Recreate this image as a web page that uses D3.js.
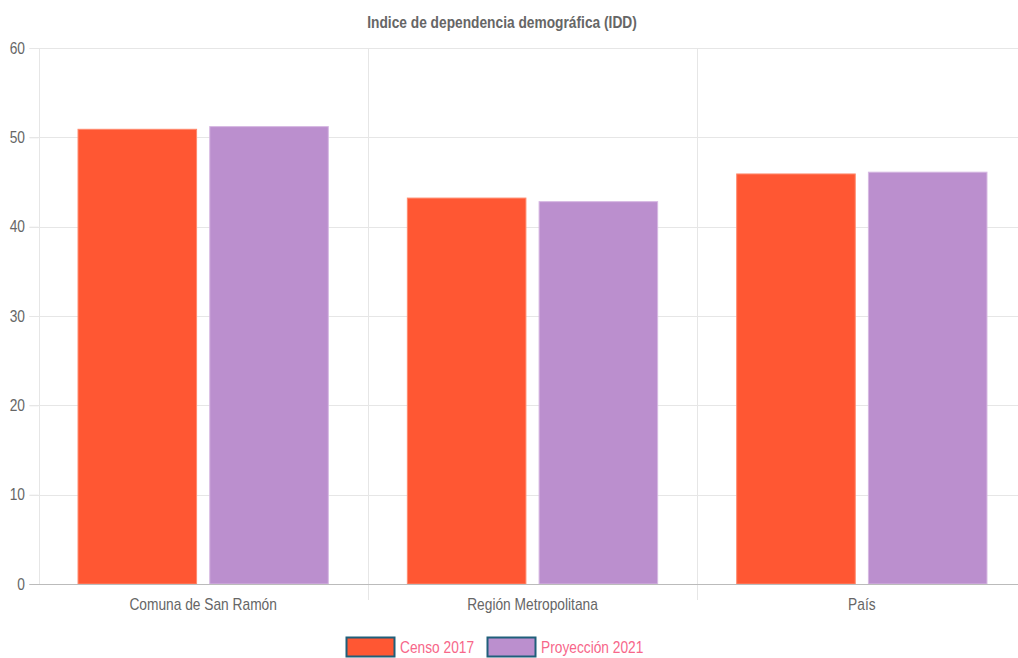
<!DOCTYPE html>
<html><head><meta charset="utf-8">
<script src="https://cdn.jsdelivr.net/npm/d3@7"></script>
<style>
html,body{margin:0;padding:0;background:#fff;overflow:hidden}
svg{display:block}
text{font-family:"Liberation Sans","Arial",sans-serif}
</style></head><body>
<script>
const categories = ["Comuna de San Ramón", "Región Metropolitana", "País"];
const seriesNames = ["Censo 2017", "Proyección 2021"];
const censo2017 = [50.9, 43.2, 45.9];
const proyeccion2021 = [51.2, 42.8, 46.1];
const yTicks = [0, 10, 20, 30, 40, 50, 60];
const colors = ["#FF5733", "#BB8FCE"];
const title = "Indice de dependencia demográfica (IDD)";

(function () {
const W = 1018, H = 658;
const SX = 0.86;
const svg = d3.select("body").append("svg").attr("width", W).attr("height", H);

const pLeft = 38.5, pRight = 1026.5, pTop = 48, pBottom = 584;
const x0 = d3.scaleBand().domain(categories).range([pLeft, pRight]).paddingInner(0).paddingOuter(0);
const bw = x0.bandwidth();
const x1 = d3.scaleBand().domain(seriesNames).range([0.1 * bw, 0.9 * bw]).paddingInner(0.1).paddingOuter(0.05);
const y = d3.scaleLinear().domain([0, 60]).range([pBottom, pTop]);

// horizontal grid
svg.append("g").selectAll("line").data(yTicks.filter(d => d > 0)).join("line")
  .attr("x1", pLeft - 9).attr("x2", W)
  .attr("y1", d => Math.round(y(d)) + 0.5).attr("y2", d => Math.round(y(d)) + 0.5)
  .attr("stroke", "#e6e6e6").attr("stroke-width", 1);

// vertical grid (category boundaries)
const vlines = [pLeft].concat(categories.map(c => x0(c) + bw)).filter(v => v < W);
svg.append("g").selectAll("line").data(vlines).join("line")
  .attr("x1", d => Math.round(d) + 0.5).attr("x2", d => Math.round(d) + 0.5)
  .attr("y1", pTop).attr("y2", d => d === pLeft ? pBottom : pBottom + 16)
  .attr("stroke", "#e6e6e6").attr("stroke-width", 1);

// bars
const data = categories.map((c, i) => ({cat: c, vals: [censo2017[i], proyeccion2021[i]]}));
const groups = svg.append("g").selectAll("g").data(data).join("g")
  .attr("transform", d => `translate(${x0(d.cat)},0)`);
groups.selectAll("rect").data(d => d.vals.map((v, j) => ({v, s: seriesNames[j], j}))).join("rect")
  .attr("x", d => x1(d.s)).attr("width", x1.bandwidth())
  .attr("y", d => y(d.v)).attr("height", d => y(0) - y(d.v))
  .attr("fill", d => colors[d.j])
  .attr("stroke", d => d.j === 0 ? "#ff8a6e" : "#d6b8e2").attr("stroke-width", 1);

// y axis
const yAxis = d3.axisLeft(y).tickValues(yTicks).tickSize(9).tickPadding(3).tickFormat(d3.format("d"));
const ga = svg.append("g").attr("transform", `translate(${pLeft},0)`).call(yAxis);
ga.select(".domain").remove();
ga.selectAll(".tick line").attr("stroke", "#e6e6e6");
ga.selectAll(".tick text").attr("fill", "#666").attr("font-size", 16)
  .attr("x", -13.5 / SX).attr("transform", `scale(${SX},1)`);
ga.selectAll(".tick").filter(d => d === 0).select("line").attr("stroke", "#bbb");

// x axis
const xAxis = d3.axisBottom(x0).tickSize(0).tickPadding(15);
const gx = svg.append("g").attr("transform", `translate(0,${pBottom})`).call(xAxis);
gx.select(".domain").remove();
gx.selectAll(".tick text").attr("fill", "#666").attr("font-size", 16).attr("transform", `scale(${SX},1)`);
svg.append("line").attr("x1", pLeft - 9).attr("x2", W).attr("y1", pBottom + 0.5).attr("y2", pBottom + 0.5)
  .attr("stroke", "#bbb").attr("stroke-width", 1.2);

// title
svg.append("g").attr("transform", "translate(502,28)")
  .append("text").attr("text-anchor", "middle").attr("transform", `scale(${SX},1)`)
  .attr("fill", "#666").attr("font-size", 16).attr("font-weight", "bold").text(title);

// legend
const legendX = [346, 487];
const lg = svg.append("g").selectAll("g").data(seriesNames).join("g")
  .attr("transform", (d, i) => `translate(${legendX[i]},637)`);
lg.append("rect").attr("width", 48).attr("height", 19).attr("x", 0.5).attr("y", 0.5)
  .attr("fill", (d, i) => colors[i]).attr("stroke", "#1f5f7a").attr("stroke-width", 2);
lg.append("g").attr("transform", "translate(54,16)")
  .append("text").attr("transform", `scale(${SX},1)`)
  .attr("fill", "#f7678a").attr("font-size", 16).text(d => d);
})();
</script>
</body></html>
